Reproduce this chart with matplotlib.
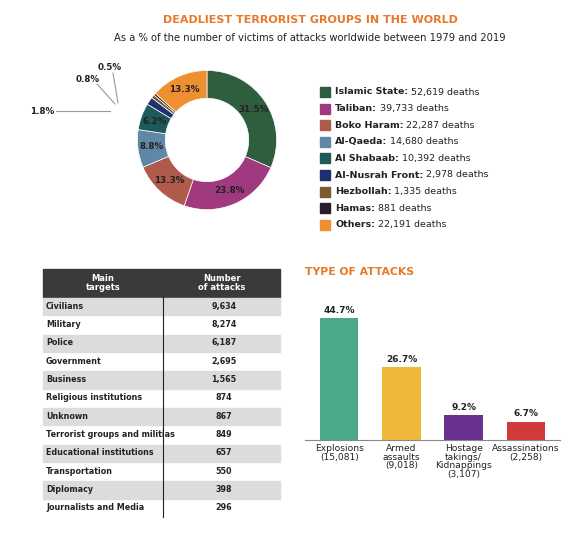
import matplotlib
matplotlib.use("Agg")
import matplotlib.pyplot as plt
from matplotlib.patches import Rectangle
import numpy as np

groups = ["Islamic State", "Taliban", "Boko Haram", "Al-Qaeda", "Al Shabaab",
          "Al-Nusrah Front", "Hezbollah", "Hamas", "Others"]
deaths = ["52,619", "39,733", "22,287", "14,680", "10,392", "2,978", "1,335", "881", "22,191"]
shares = [31.5, 23.8, 13.3, 8.8, 6.2, 1.8, 0.8, 0.5, 13.3]
gcolors = ["#2e5e3e", "#a0397e", "#b05a4c", "#5f88a6", "#1f5a5a", "#1f3070",
           "#7a5a30", "#2a1a2a", "#ef9030"]

targets = ["Civilians", "Military", "Police", "Government", "Business",
           "Religious institutions", "Unknown", "Terrorist groups and militias",
           "Educational institutions", "Transportation", "Diplomacy", "Journalists and Media"]
attacks = ["9,634", "8,274", "6,187", "2,695", "1,565", "874", "867", "849",
           "657", "550", "398", "296"]

att_types = ["Explosions\n(15,081)", "Armed\nassaults\n(9,018)",
             "Hostage\ntakings/\nKidnappings\n(3,107)", "Assassinations\n(2,258)"]
att_pct = [44.7, 26.7, 9.2, 6.7]
att_colors = ["#4aa98a", "#f0b83a", "#6a3090", "#d03a3a"]

W, H = 576, 539
fig = plt.figure(figsize=(W/100, H/100), dpi=100)
fig.patch.set_facecolor("white")

def ax_px(x0, y0, x1, y1):
    return fig.add_axes([x0/W, 1-y1/H, (x1-x0)/W, (y1-y0)/H])

def ftext(x, y, s, **kw):
    return fig.text(x/W, 1-y/H, s, **kw)

ftext(310, 20, "DEADLIEST TERRORIST GROUPS IN THE WORLD", ha="center", va="center",
      fontsize=8, fontweight="bold", color="#e8792a")
ftext(310, 38, "As a % of the number of victims of attacks worldwide between 1979 and 2019",
      ha="center", va="center", fontsize=7.2, color="#222222")

# Donut
ax = ax_px(127, 60, 287, 220)
ax.pie(shares, colors=gcolors, startangle=90, counterclock=False,
       wedgeprops=dict(width=0.4, edgecolor="white", linewidth=0.5))
ax.set_xlim(-1.15, 1.15); ax.set_ylim(-1.15, 1.15); ax.set_aspect("equal"); ax.axis("off")
ang = 90.0
for i, s in enumerate(shares):
    mid = np.deg2rad(ang - s*3.6/2)
    ang -= s*3.6
    if s > 3:
        ax.text(0.8*np.cos(mid), 0.8*np.sin(mid), f"{s}%", ha="center", va="center",
                fontsize=6.3, fontweight="bold", color="#222222")
ftext(110, 68, "0.5%", ha="center", va="center", fontsize=6.3, fontweight="bold", color="#222")
ftext(88, 80, "0.8%", ha="center", va="center", fontsize=6.3, fontweight="bold", color="#222")
ftext(42, 111, "1.8%", ha="center", va="center", fontsize=6.3, fontweight="bold", color="#222")
fig.add_artist(plt.Line2D([113/W, 118/W], [1-73/H, 1-103/H], color="#999", lw=0.8))
fig.add_artist(plt.Line2D([97/W, 115/W], [1-84/H, 1-104/H], color="#999", lw=0.8))
fig.add_artist(plt.Line2D([56/W, 110/W], [1-111/H, 1-111/H], color="#999", lw=0.8))

# Legend
r = fig.canvas.get_renderer()
for i, (g, d, c) in enumerate(zip(groups, deaths, gcolors)):
    y = 92 + i*16.6
    fig.add_artist(Rectangle((320/W, 1-(y+5)/H), 10/W, 10/H, color=c))
    t = ftext(335, y, g + ":", ha="left", va="center", fontsize=6.8,
              fontweight="bold", color="#222")
    bb = t.get_window_extent(renderer=r)
    ftext(bb.x1 + 3, y, f"{d} deaths", ha="left", va="center", fontsize=6.8, color="#222")

# Table
tx0, tx1, ty0 = 43, 280, 269
hdr = 28
rh = (517 - 297) / len(targets)
fig.add_artist(Rectangle((tx0/W, 1-(ty0+hdr)/H), (tx1-tx0)/W, hdr/H, color="#3a3a3a"))
ftext(103, ty0+hdr/2, "Main\ntargets", ha="center", va="center", fontsize=6,
      fontweight="bold", color="white", linespacing=0.9)
ftext(222, ty0+hdr/2, "Number\nof attacks", ha="center", va="center", fontsize=6,
      fontweight="bold", color="white", linespacing=0.9)
for i, (t, a) in enumerate(zip(targets, attacks)):
    y = 297 + i*rh
    if i % 2 == 0:
        fig.add_artist(Rectangle((tx0/W, 1-(y+rh)/H), (tx1-tx0)/W, (rh-1)/H, color="#dcdcdc"))
    ftext(46, y+rh/2, t, ha="left", va="center", fontsize=5.8, fontweight="bold", color="#222")
    ftext(224, y+rh/2, a, ha="center", va="center", fontsize=5.8, fontweight="bold", color="#222")
fig.add_artist(plt.Line2D([163/W, 163/W], [1-297/H, 1-517/H], color="#222", lw=0.8))

# Bar chart
ftext(305, 272, "TYPE OF ATTACKS", ha="left", va="center", fontsize=7.8,
      fontweight="bold", color="#e8792a")
bx = ax_px(305, 290, 560, 440)
xs = np.arange(len(att_pct))
bx.bar(xs, att_pct, color=att_colors, width=0.62)
bx.set_xlim(-0.55, 3.55); bx.set_ylim(0, 55)
for s in ["top", "right", "left"]:
    bx.spines[s].set_visible(False)
bx.spines["bottom"].set_color("#888")
bx.set_yticks([])
bx.set_xticks(xs)
bx.set_xticklabels(att_types, fontsize=6.6, color="#222", linespacing=0.95)
bx.tick_params(axis="x", length=0, pad=3)
for x, v in zip(xs, att_pct):
    bx.text(x, v + 1.2, f"{v}%", ha="center", va="bottom", fontsize=6.5,
            fontweight="bold", color="#222")

fig.savefig("out.png", dpi=100)
